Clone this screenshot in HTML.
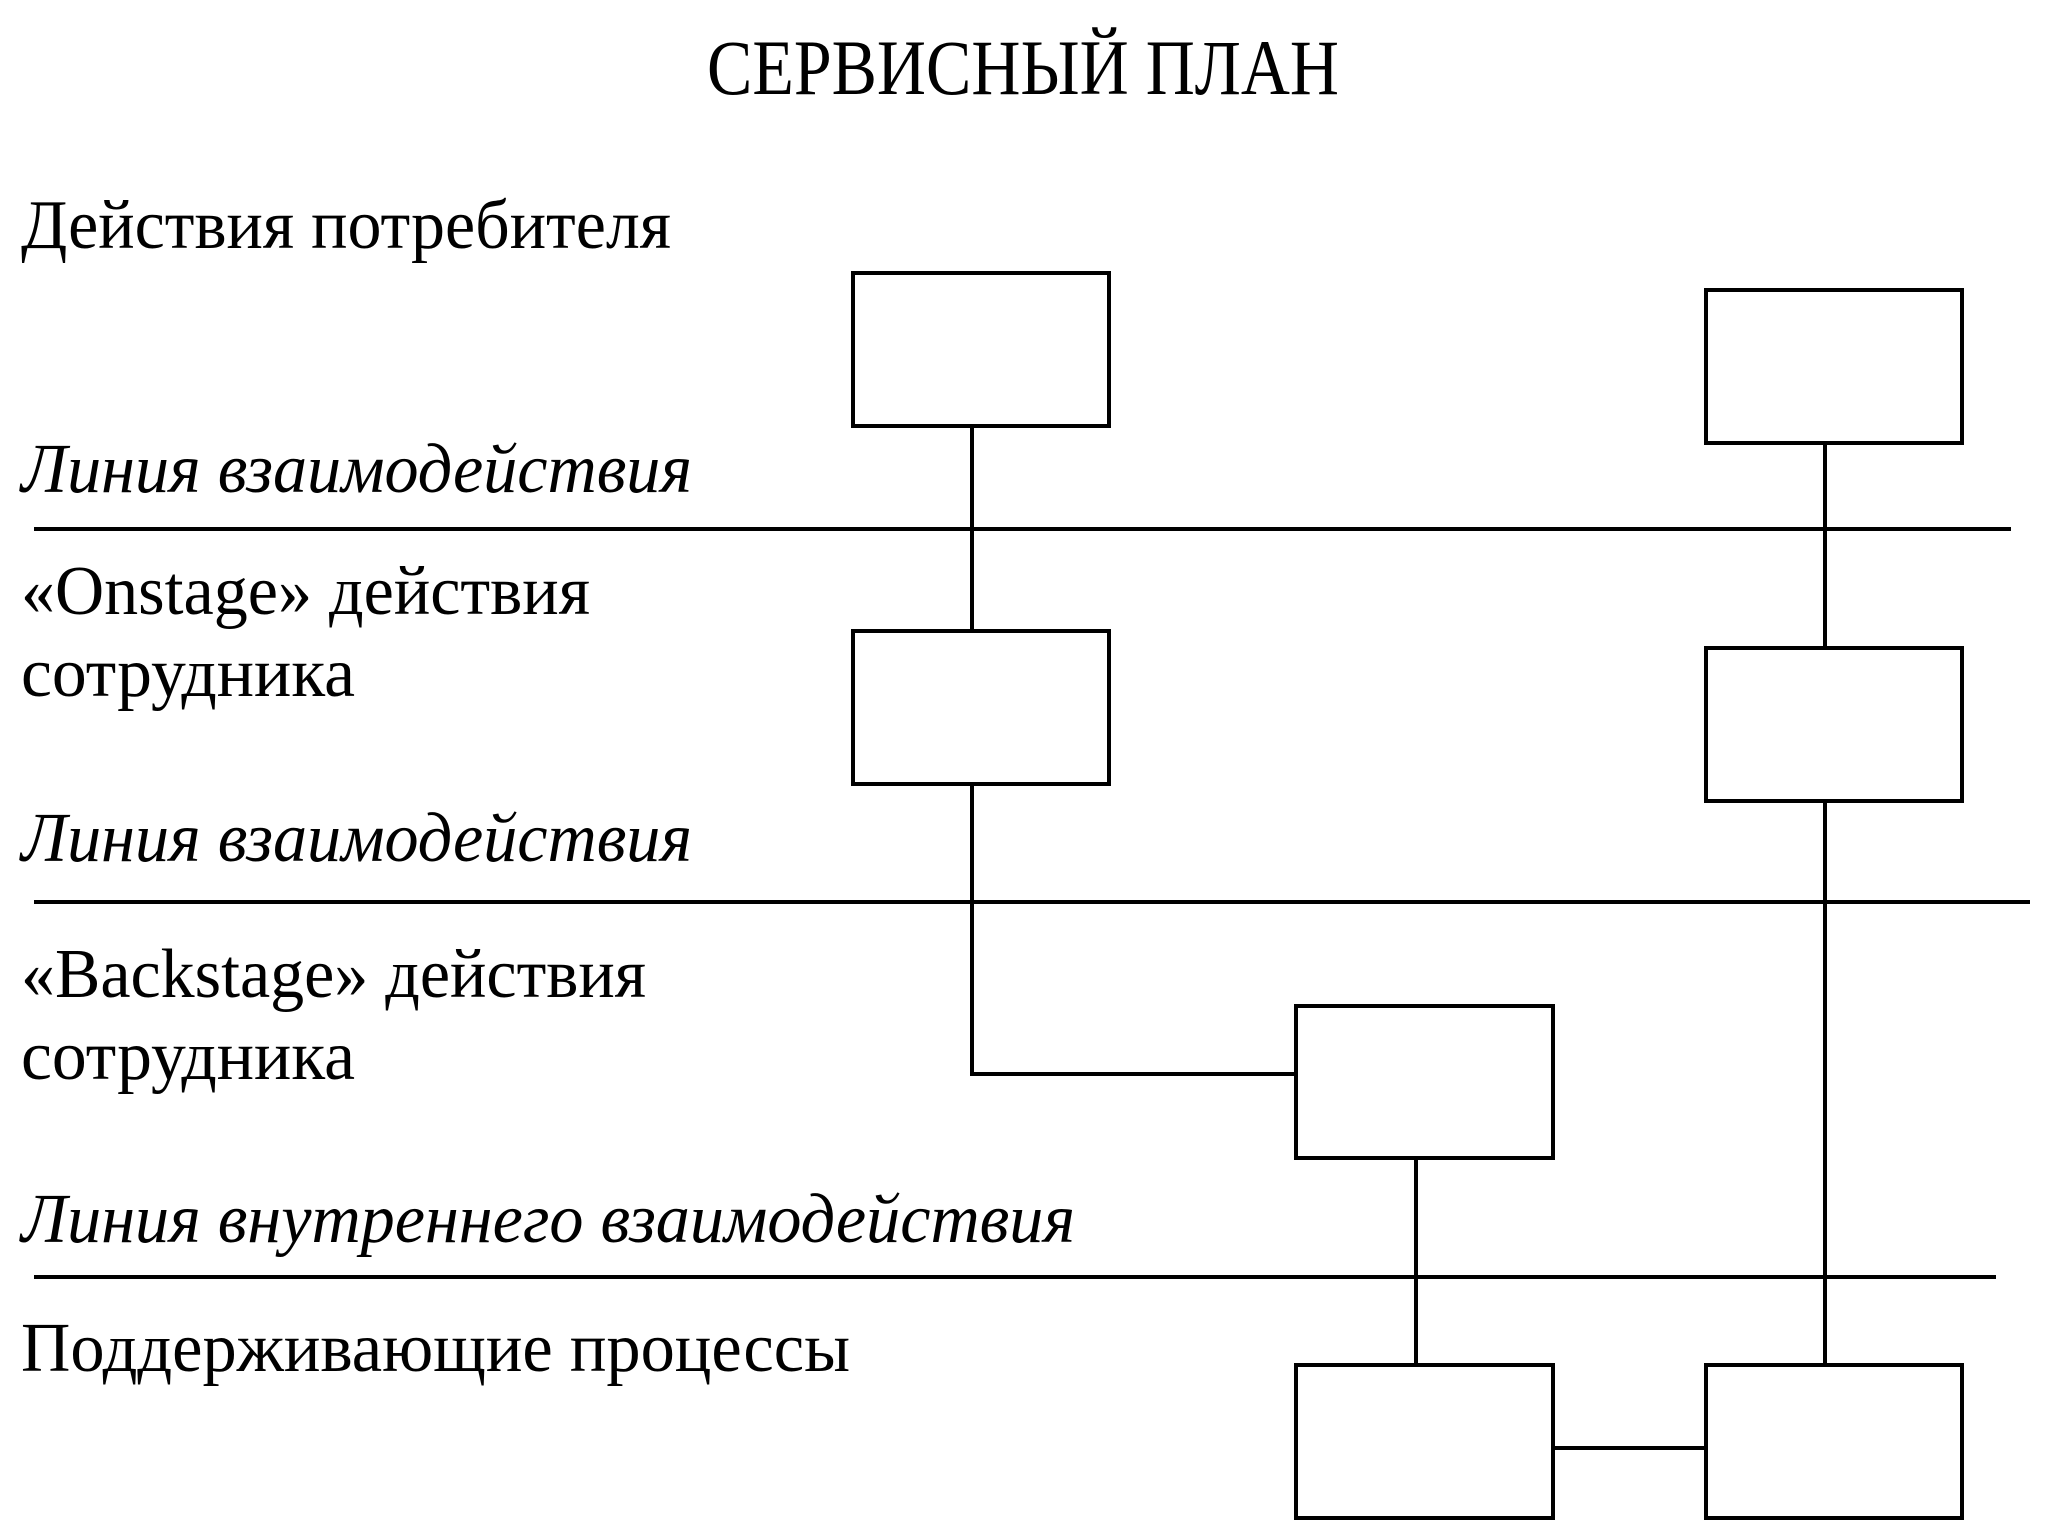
<!DOCTYPE html>
<html><head><meta charset="utf-8"><style>html,body{margin:0;padding:0;background:#fff}svg{display:block}</style></head>
<body>
<svg width="2048" height="1536" viewBox="0 0 2048 1536" xmlns="http://www.w3.org/2000/svg" font-family="'Liberation Serif', serif" fill="#000">
<text x="707" y="94" font-size="78" textLength="632" lengthAdjust="spacingAndGlyphs">СЕРВИСНЫЙ ПЛАН</text>
<text x="21" y="248" font-size="70" textLength="650" lengthAdjust="spacingAndGlyphs">Действия потребителя</text>
<text x="21" y="492" font-size="70" font-style="italic" textLength="671" lengthAdjust="spacingAndGlyphs">Линия взаимодействия</text>
<text x="21" y="614" font-size="70" textLength="569" lengthAdjust="spacingAndGlyphs">«Onstage» действия</text>
<text x="21" y="696" font-size="70" textLength="334" lengthAdjust="spacingAndGlyphs">сотрудника</text>
<text x="21" y="861" font-size="70" font-style="italic" textLength="671" lengthAdjust="spacingAndGlyphs">Линия взаимодействия</text>
<text x="21" y="997" font-size="70" textLength="625" lengthAdjust="spacingAndGlyphs">«Backstage» действия</text>
<text x="21" y="1079" font-size="70" textLength="334" lengthAdjust="spacingAndGlyphs">сотрудника</text>
<text x="21" y="1242" font-size="70" font-style="italic" textLength="1054" lengthAdjust="spacingAndGlyphs">Линия внутреннего взаимодействия</text>
<text x="21" y="1371" font-size="70" textLength="829" lengthAdjust="spacingAndGlyphs">Поддерживающие процессы</text>
<g stroke="#000" stroke-width="4" fill="none">
<line x1="34" y1="529" x2="2011" y2="529"/>
<line x1="34" y1="902" x2="2030" y2="902"/>
<line x1="34" y1="1277" x2="1996" y2="1277"/>
<rect x="853" y="273" width="256" height="153"/>
<rect x="1706" y="290" width="256" height="153"/>
<rect x="853" y="631" width="256" height="153"/>
<rect x="1706" y="648" width="256" height="153"/>
<rect x="1296" y="1006" width="257" height="152"/>
<rect x="1296" y="1365" width="257" height="153"/>
<rect x="1706" y="1365" width="256" height="153"/>
<line x1="972" y1="426" x2="972" y2="631"/>
<polyline points="972,784 972,1074 1296,1074"/>
<line x1="1825" y1="443" x2="1825" y2="648"/>
<line x1="1825" y1="801" x2="1825" y2="1365"/>
<line x1="1416" y1="1158" x2="1416" y2="1365"/>
<line x1="1553" y1="1448" x2="1706" y2="1448"/>
</g>
</svg>
</body></html>
